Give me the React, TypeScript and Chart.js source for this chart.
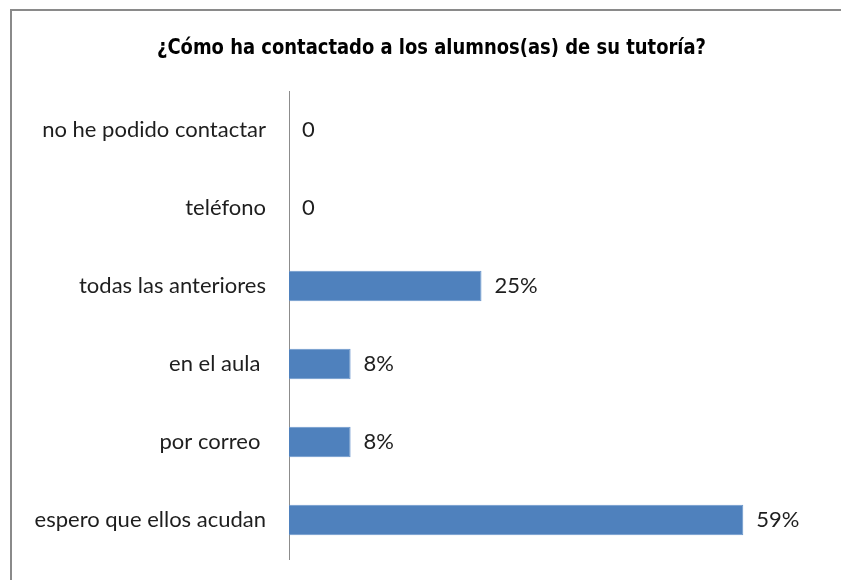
import React, { useEffect, useRef } from "react";
import { Chart, registerables } from "chart.js";

Chart.register(...registerables);

const TITLE = "¿Cómo ha contactado a los alumnos(as) de su tutoría?";
const categories = [
  "no he podido contactar",
  "teléfono",
  "todas las anteriores",
  "en el aula ",
  "por correo ",
  "espero que ellos acudan",
];
const values = [0, 0, 25, 8, 8, 59];
const valueLabels = ["0", "0", "25%", "8%", "8%", "59%"];

const LABEL_FONT = "Lato, 'Open Sans', sans-serif";
const TITLE_FONT = "bold 22px 'DejaVu Sans Condensed', 'Liberation Sans Narrow', sans-serif";

const framePlugin = {
  id: "frame",
  beforeDraw(chart: any) {
    const ctx = chart.ctx;
    ctx.save();
    ctx.fillStyle = "#ffffff";
    ctx.fillRect(0, 0, chart.width, chart.height);
    ctx.strokeStyle = "#8a8a8a";
    ctx.lineWidth = 2;
    ctx.beginPath();
    ctx.moveTo(10, 10);
    ctx.lineTo(chart.width, 10);
    ctx.moveTo(11, 10);
    ctx.lineTo(11, chart.height);
    ctx.stroke();
    // title (condensed to the reference's width)
    ctx.font = TITLE_FONT;
    ctx.fillStyle = "#000000";
    ctx.textBaseline = "alphabetic";
    ctx.textAlign = "left";
    const w = ctx.measureText(TITLE).width;
    const target = 549;
    ctx.translate(157, 54);
    ctx.scale(target / w, 1);
    ctx.fillText(TITLE, 0, 0);
    ctx.restore();
  },
};

const valueLabelPlugin = {
  id: "valueLabels",
  afterDatasetsDraw(chart: any) {
    const ctx = chart.ctx;
    const meta = chart.getDatasetMeta(0);
    ctx.save();
    ctx.font = `22px ${LABEL_FONT}`;
    ctx.fillStyle = "#1e1e1e";
    ctx.textAlign = "left";
    ctx.textBaseline = "middle";
    meta.data.forEach((bar: any, i: number) => {
      ctx.fillText(valueLabels[i], bar.x + 13, bar.y);
    });
    ctx.restore();
  },
};

export default function App() {
  const ref = useRef<HTMLCanvasElement | null>(null);
  useEffect(() => {
    if (!ref.current) return;
    const chart = new Chart(ref.current, {
      type: "bar",
      data: {
        labels: categories,
        datasets: [
          {
            data: values,
            backgroundColor: "#4F81BD",
            borderColor: "#6a96cc",
            borderWidth: 1,
            barPercentage: 0.39,
            categoryPercentage: 1,
          },
        ],
      },
      options: {
        indexAxis: "y",
        animation: false,
        responsive: false,
        maintainAspectRatio: false,
        layout: { autoPadding: false, padding: { left: 0, right: 13, top: 91, bottom: 21 } },
        plugins: {
          legend: { display: false },
          tooltip: { enabled: false },
          title: { display: false },
        },
        scales: {
          x: { display: false, min: 0, max: 70 },
          y: {
            afterFit(scale: any) {
              scale.width = 289;
              scale.paddingTop = 0;
              scale.paddingBottom = 0;
            },
            grid: { display: false, drawTicks: false },
            border: { display: true, color: "#8c8c8c", width: 1 },
            ticks: {
              padding: 23,
              color: "#1e1e1e",
              font: { family: LABEL_FONT, size: 22 },
            },
          },
        },
      },
      plugins: [framePlugin, valueLabelPlugin],
    });
    return () => chart.destroy();
  }, []);
  return (
    <div style={{ position: "fixed", left: 0, top: 0, width: 841, height: 580, background: "#fff" }}>
      <canvas ref={ref} width={841} height={580} style={{ display: "block" }} />
    </div>
  );
}
